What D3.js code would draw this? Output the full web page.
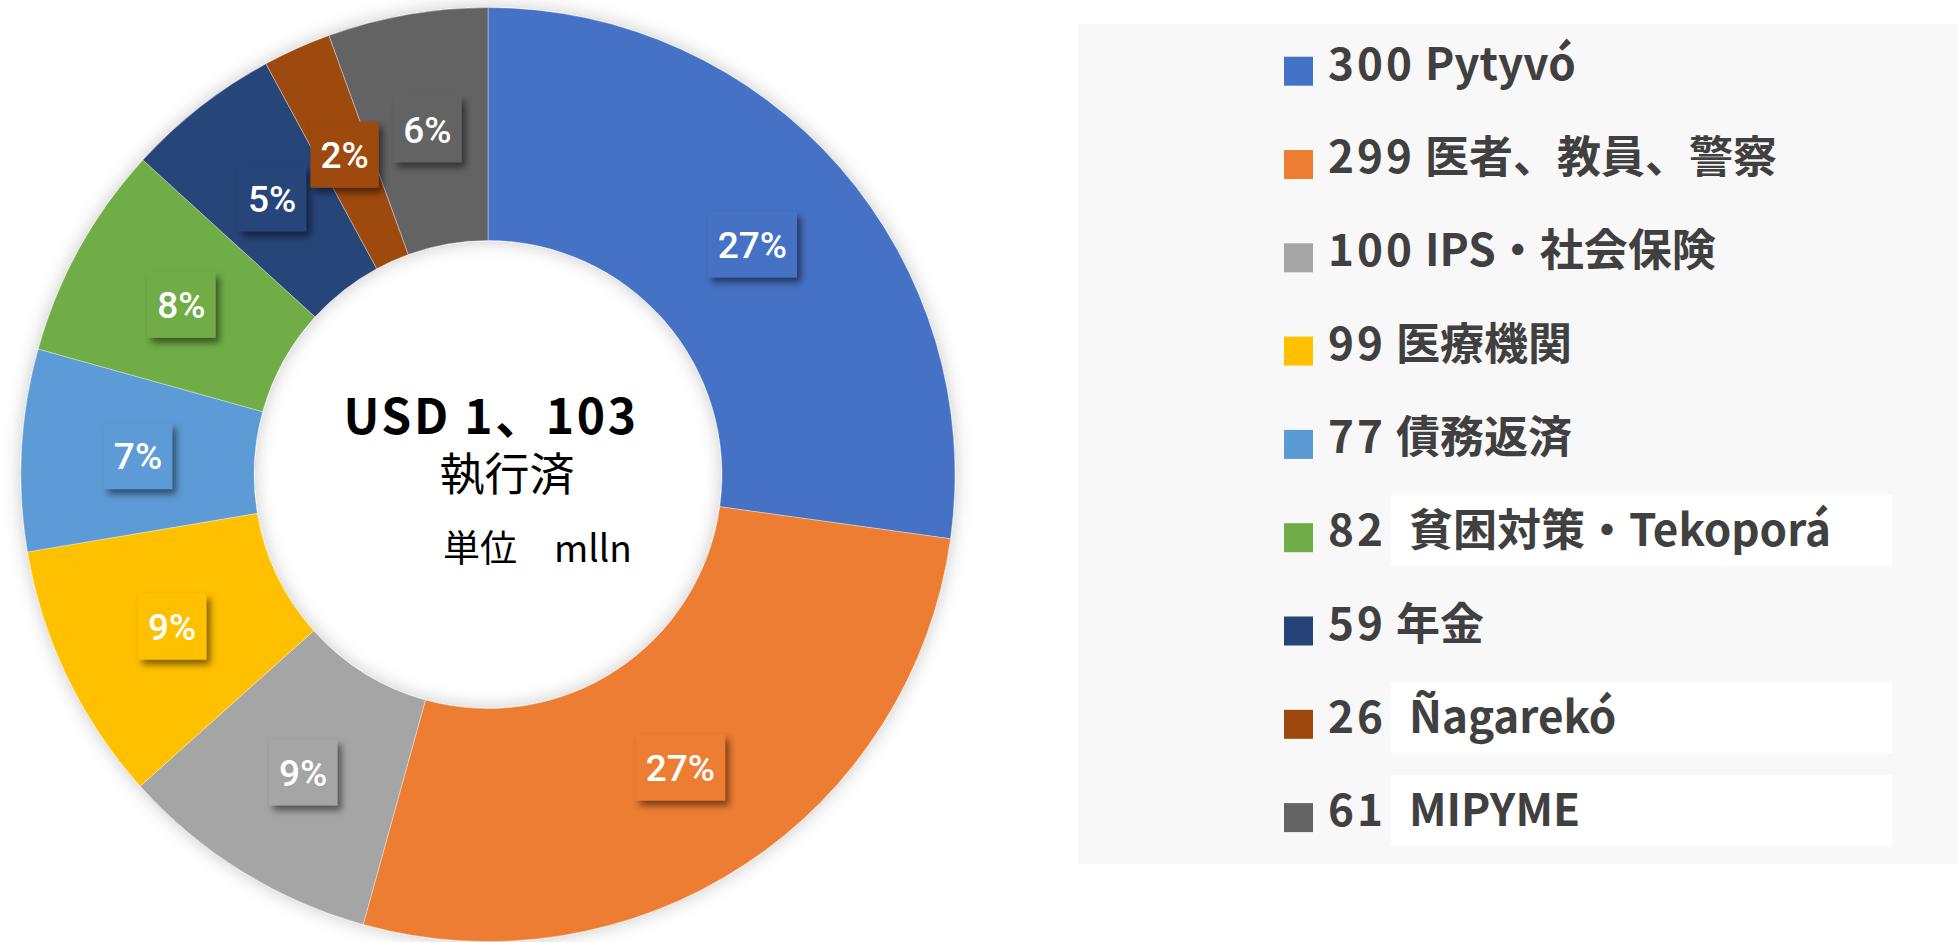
<!DOCTYPE html>
<html>
<head>
<meta charset="utf-8">
<script src="https://cdn.jsdelivr.net/npm/d3@7"></script>
<style>
  body { margin: 0; background: #fff; }
  svg { display: block; }
</style>
</head>
<body>
<div id="chart"></div>
<script>
// values (USD mlln)
var categories = ["Pytyvó", "医者、教員、警察", "IPS・社会保険", "医療機関", "債務返済",
                  "貧困対策・Tekoporá", "年金", "Ñagarekó", "MIPYME"];
var values = [300, 299, 100, 99, 77, 82, 59, 26, 61];
var pctLabels = ["27%", "27%", "9%", "9%", "7%", "8%", "5%", "2%", "6%"];
var colors = ["#4472C4", "#ED7D31", "#A5A5A5", "#FFC000", "#5B9BD5",
              "#70AD47", "#264478", "#9E480E", "#636363"];
// legend rows whose name sits in a white text box
var boxedRows = [5, 7, 8];

var width = 1957, height = 942;
var cx = 488, cy = 474.5;
var outerR = 467, innerR = 234;

var svg = d3.select('#chart').append('svg')
  .attr('width', width)
  .attr('height', height)

var defs = svg.append('defs')
var ringShadow = defs.append('filter').attr('id', 'ringShadow')
  .attr('x', '-10%').attr('y', '-10%').attr('width', '120%').attr('height', '120%')
ringShadow.append('feDropShadow')
  .attr('dx', 0).attr('dy', 0).attr('stdDeviation', 9)
  .attr('flood-color', '#000').attr('flood-opacity', 0.22)

var boxShadow = defs.append('filter').attr('id', 'boxShadow')
  .attr('x', '-30%').attr('y', '-30%').attr('width', '160%').attr('height', '160%')
boxShadow.append('feDropShadow')
  .attr('dx', 4).attr('dy', 5).attr('stdDeviation', 3.5)
  .attr('flood-color', '#000').attr('flood-opacity', 0.5)

// donut
var pie = d3.pie().sort(null).value(function(d){ return d })
var arcs = pie(values)
var arc = d3.arc().innerRadius(innerR).outerRadius(outerR)
var labelArc = d3.arc().innerRadius((innerR + outerR) / 2).outerRadius((innerR + outerR) / 2)

var ring = svg.append('g')
  .attr('transform', 'translate(' + cx + ',' + cy + ')')

ring.append('g')
  .attr('filter', 'url(#ringShadow)')
  .selectAll('path')
  .data(arcs)
  .enter().append('path')
    .attr('d', arc)
    .attr('fill', function(d, i){ return colors[i] })
    .attr('stroke', 'rgba(255,255,255,0.45)')
    .attr('stroke-width', 0.8)

// percent labels with shaded boxes
var labels = ring.append('g')
  .selectAll('g')
  .data(arcs)
  .enter().append('g')
    .attr('transform', function(d){ return 'translate(' + labelArc.centroid(d) + ')' })

labels.each(function(d, i){
  var g = d3.select(this)
  var txt = g.append('text')
    .attr('text-anchor', 'middle')
    .attr('dy', '0.36em')
    .style('font-family', 'Roboto, sans-serif')
    .style('font-weight', 500)
    .style('font-size', '37px')
    .style('fill', '#fff')
    .text(pctLabels[i])
  var w = txt.node().getComputedTextLength() + 20
  g.insert('rect', 'text')
    .attr('x', -w / 2).attr('y', -33)
    .attr('width', w).attr('height', 66)
    .attr('fill', colors[i])
    .attr('filter', 'url(#boxShadow)')
})

// centre text
var centre = svg.append('g')
centre.append('text')
  .attr('x', 491).attr('y', 434)
  .attr('text-anchor', 'middle')
  .style('font-family', '"Noto Sans CJK JP", sans-serif')
  .style('font-weight', 700)
  .style('font-size', '48px')
  .style('letter-spacing', '2.6px')
  .style('fill', '#000')
  .text('USD 1、103')
centre.append('text')
  .attr('x', 507).attr('y', 491)
  .attr('text-anchor', 'middle')
  .style('font-family', '"Noto Sans CJK JP", sans-serif')
  .style('font-size', '45px')
  .style('fill', '#000')
  .text('執行済')
centre.append('text')
  .attr('x', 443).attr('y', 562)
  .style('font-family', '"Noto Sans CJK JP", sans-serif')
  .style('font-size', '37px')
  .style('fill', '#000')
  .text('単位　mlln')

// legend panel
var legend = svg.append('g')
legend.append('rect')
  .attr('x', 1078).attr('y', 24)
  .attr('width', width - 1078).attr('height', 840)
  .attr('fill', '#f8f8f8')

var rowY = d3.scaleLinear().domain([0, 1]).range([56.7, 150])

var rows = legend.selectAll('g.row')
  .data(categories)
  .enter().append('g')
    .attr('class', 'row')
    .attr('transform', function(d, i){ return 'translate(0,' + rowY(i) + ')' })

rows.append('rect')
  .attr('x', 1284).attr('y', 0)
  .attr('width', 29).attr('height', 29)
  .attr('fill', function(d, i){ return colors[i] })

rows.each(function(d, i){
  var g = d3.select(this)
  var style = function(t){
    return t.style('font-family', '"Noto Sans CJK JP", sans-serif')
      .style('font-weight', 700)
      .style('font-size', '44px')
      .style('fill', '#404040')
  }
  if (boxedRows.indexOf(i) >= 0) {
    g.append('rect')
      .attr('x', 1390).attr('y', -28)
      .attr('width', 502).attr('height', 71)
      .attr('fill', '#fff')
    style(g.append('text').attr('x', 1328).attr('y', 23))
      .append('tspan').style('letter-spacing', '3px').text(values[i])
    style(g.append('text').attr('x', 1409).attr('y', 23)).text(d)
  } else {
    var t = style(g.append('text').attr('x', 1328).attr('y', 23))
    t.append('tspan').style('letter-spacing', '3px').text(values[i])
    t.append('tspan').text(' ' + d)
  }
})
</script>
</body>
</html>
